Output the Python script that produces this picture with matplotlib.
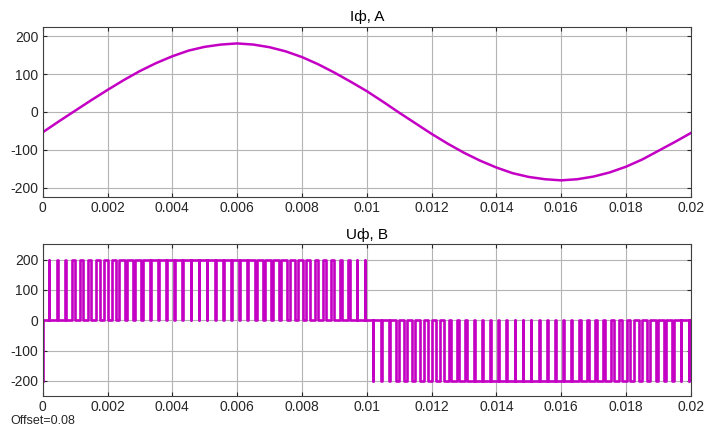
import matplotlib
matplotlib.use("Agg")
import matplotlib.pyplot as plt
import numpy as np

plt.rcParams['font.family'] = ['Liberation Sans', 'DejaVu Sans']
plt.rcParams['axes.unicode_minus'] = False

t_cur = np.arange(41) * 0.0005
i_cur = [-54, -25, 3, 31, 58, 84, 108, 129, 147, 162,
         172, 178, 181, 178, 171, 160, 145, 126, 104, 80,
         55, 27, -2, -30, -58, -84, -108, -129, -147, -162,
         -172, -178, -181, -178, -171, -160, -145, -126, -103, -80,
         -56]

# PWM voltage: carrier period and duty of each pulse
Ts = 0.00025
U_dc = 200
duty_pos = [0.06, 0.13, 0.20, 0.27, 0.34, 0.40, 0.47, 0.53, 0.59, 0.64,
            0.69, 0.74, 0.78, 0.81, 0.84, 0.87, 0.89, 0.91, 0.92, 0.92,
            0.92, 0.91, 0.90, 0.88, 0.86, 0.83, 0.79, 0.75, 0.71, 0.66,
            0.61, 0.55, 0.49, 0.43, 0.37, 0.30, 0.23, 0.16, 0.09, 0.05]
duty_neg = [0.06, 0.13, 0.20, 0.27, 0.34, 0.40, 0.47, 0.53, 0.59, 0.64,
            0.69, 0.74, 0.78, 0.81, 0.84, 0.87, 0.89, 0.91, 0.92, 0.92,
            0.92, 0.91, 0.90, 0.88, 0.86, 0.83, 0.79, 0.75, 0.71, 0.66,
            0.61, 0.55, 0.49, 0.43, 0.37, 0.30, 0.23, 0.16, 0.09, 0.04]
u_start = -200

xticks = [0, 0.002, 0.004, 0.006, 0.008, 0.01, 0.012, 0.014, 0.016, 0.018, 0.02]
xlabels = ['0', '0.002', '0.004', '0.006', '0.008', '0.01', '0.012', '0.014', '0.016', '0.018', '0.02']

line_col = '#c400c4'

# build the step trace of the voltage
tu = [0.0, 0.0]
uu = [u_start, 0]
pulses = [(d, U_dc, 0.0) for d in duty_pos] + [(d, -U_dc, 0.01) for d in duty_neg]
for k, (d, amp, base) in enumerate(pulses):
    kk = k % 40
    c = base + (kk + 0.8) * Ts
    a = c - d * Ts / 2
    b = c + d * Ts / 2
    tu += [a, a, b, b]
    uu += [0, amp, amp, 0]
tu.append(0.02)
uu.append(0)

fig = plt.figure(figsize=(7.07, 4.32), dpi=100)
ax1 = fig.add_axes([0.0604, 0.544, 0.9166, 0.394])
ax2 = fig.add_axes([0.0604, 0.0833, 0.9166, 0.351])

ax1.plot(t_cur, i_cur, color=line_col, lw=1.8)
ax1.set_ylim(-225, 225)
ax1.set_yticks([-200, -100, 0, 100, 200])
ax1.set_title('Iф, A', fontsize=11, pad=4)

ax2.plot(tu, uu, color=line_col, lw=1.9)
ax2.set_ylim(-250, 250)
ax2.set_yticks([-200, -100, 0, 100, 200])
ax2.set_title('Uф, B', fontsize=11, pad=4)

for ax in (ax1, ax2):
    ax.set_xlim(0, 0.02)
    ax.set_xticks(xticks)
    ax.set_xticklabels(xlabels)
    ax.grid(True, color='#b4b4b4', lw=0.8)
    ax.tick_params(direction='in', length=3, labelsize=10, colors='#262626',
                   top=True, right=True, pad=3)
    for s in ax.spines.values():
        s.set_color('#404040')
        s.set_linewidth(0.8)

fig.text(0.014, 0.018, 'Offset=0.08', fontsize=9, color='#262626')

fig.savefig('out.png', dpi=100)
